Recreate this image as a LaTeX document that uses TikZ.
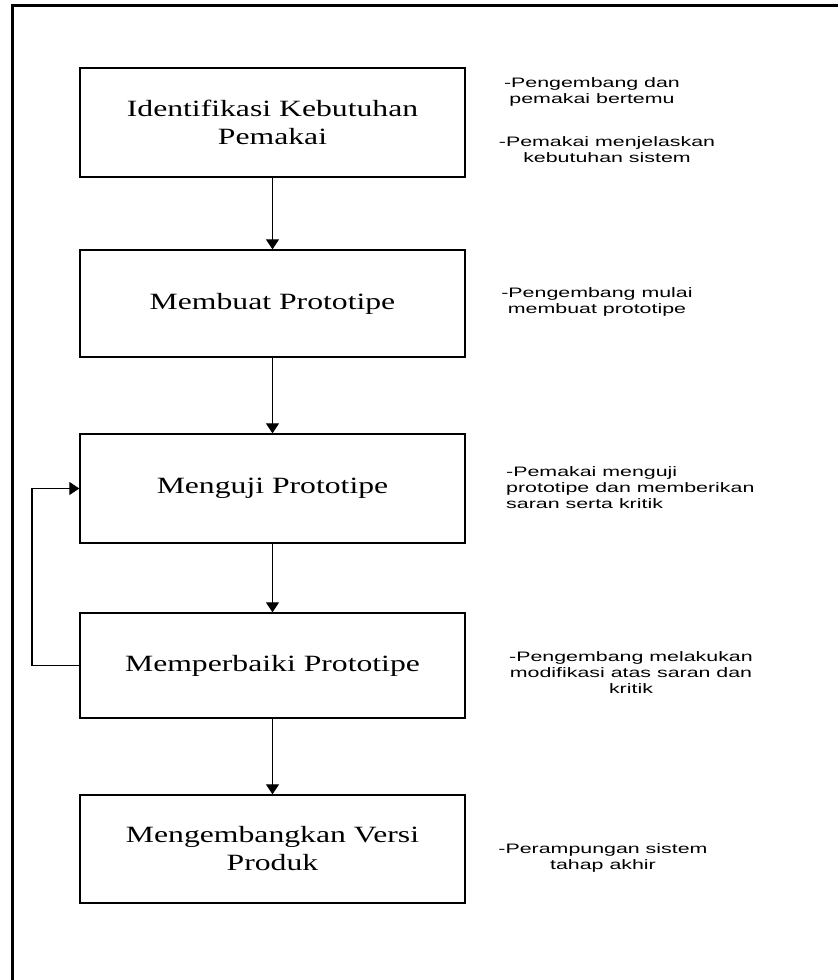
\documentclass[tikz,border=0pt]{standalone}
\usepackage{fontspec}
\usepackage{graphicx}
\setmainfont{Liberation Serif}
\newfontfamily\sansf{Liberation Sans}
\usetikzlibrary{arrows.meta}
\newcommand\sxs[1]{\scalebox{1.36}[1]{#1}}
\newcommand\sxn[1]{\scalebox{1.56}[1]{#1}}
\tikzset{
  stagebox/.style={draw=black, line width=1.3pt, minimum width=385pt, inner sep=0pt, align=center,
    font=\fontsize{23.3}{28}\selectfont},
  notetext/.style={inner sep=0pt, font=\sansf\fontsize{13.7}{16}\selectfont, anchor=north},
  flow/.style={draw=black, line width=1.1pt, -{Triangle[width=13pt,length=10pt]}},
  frame/.style={draw=black, line width=3pt}
}
\begin{document}
\begin{tikzpicture}[x=1pt,y=-1pt]
\useasboundingbox (0,0) rectangle (838,980);
% frame
\coordinate (ftr) at (838,5.8);
\coordinate (ftl) at (12.5,5.8);
\coordinate (fbl) at (12.5,982);
\draw[frame] (ftr) -- (ftl) -- (fbl);
% boxes
\node[stagebox, minimum height=109pt] (b1) at (272.5,122.5) {\sxs{Identifikasi Kebutuhan}\\\sxs{Pemakai}};
\node[stagebox, minimum height=107pt] (b2) at (272.5,303.5) {\sxs{Membuat Prototipe}};
\node[stagebox, minimum height=109pt] (b3) at (272.5,488.5) {\sxs{Menguji Prototipe}};
\node[stagebox, minimum height=105pt] (b4) at (272.5,665.5) {\sxs{Memperbaiki Prototipe}};
\node[stagebox, minimum height=108pt] (b5) at (272.5,849) {\sxs{Mengembangkan Versi}\\\sxs{Produk}};
% arrows
\draw[flow] (b1.south) -- (b2.north);
\draw[flow] (b2.south) -- (b3.north);
\draw[flow] (b3.south) -- (b4.north);
\draw[flow] (b4.south) -- (b5.north);
\coordinate (fb) at (32,575);
\draw[flow] (b4.west) -- (b4.west -| fb) -- (b3.west -| fb) -- (b3.west);
% notes
\node[notetext, align=center] (n1a) at (592,77.5) {\sxn{-Pengembang dan}\\\sxn{pemakai bertemu}};
\node[notetext, align=center] (n1b) at (607,136.5) {\sxn{-Pemakai menjelaskan}\\\sxn{kebutuhan sistem}};
\node[notetext, align=center] (n2) at (597,287.5) {\sxn{-Pengembang mulai}\\\sxn{membuat prototipe}};
\node[notetext, align=left, anchor=north west] (n3) at (506,466.5) {\sxn{-Pemakai menguji}\\\sxn{prototipe dan memberikan}\\\sxn{saran serta kritik}};
\node[notetext, align=center] (n4) at (631,651.5) {\sxn{-Pengembang melakukan}\\\sxn{modifikasi atas saran dan}\\\sxn{kritik}};
\node[notetext, align=center] (n5) at (603,843.5) {\sxn{-Perampungan sistem}\\\sxn{tahap akhir}};
\end{tikzpicture}
\end{document}
